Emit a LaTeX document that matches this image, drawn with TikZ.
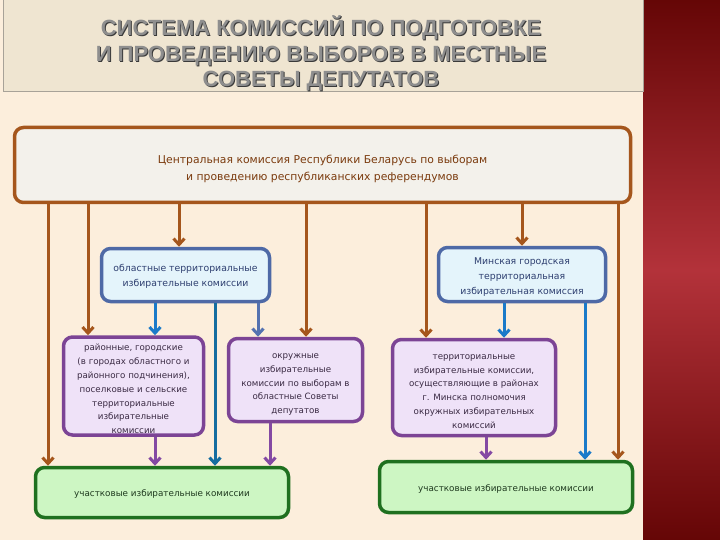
\documentclass[tikz,border=0pt]{standalone}
\usepackage{fontspec}
\setmainfont{DejaVu Sans}
\newfontfamily\titlefont{Liberation Sans}
\usetikzlibrary{arrows.meta}
\definecolor{bgcream}{HTML}{FCEEDC}
\definecolor{titlefill}{HTML}{EFE5D1}
\definecolor{titlebord}{HTML}{A8A298}
\definecolor{titlegray}{HTML}{8E8E8E}
\definecolor{titledark}{HTML}{3A3A3A}
\definecolor{redA}{HTML}{650606}
\definecolor{redB}{HTML}{B3323A}
\definecolor{brownc}{HTML}{A5561C}
\definecolor{centralfill}{HTML}{F3F1EB}
\definecolor{browntext}{HTML}{7B3B0E}
\definecolor{blueborder}{HTML}{4E69A6}
\definecolor{bluefill}{HTML}{E4F4FB}
\definecolor{bluetext}{HTML}{2E3F70}
\definecolor{arrowblue}{HTML}{1B7AC9}
\definecolor{slateblue}{HTML}{5572B0}
\definecolor{tealc}{HTML}{156DA0}
\definecolor{purpleborder}{HTML}{7C4495}
\definecolor{purplefill}{HTML}{EFE2F8}
\definecolor{purpletext}{HTML}{3B2B44}
\definecolor{arrowpurple}{HTML}{8449A3}
\definecolor{greenborder}{HTML}{1F701F}
\definecolor{greenfill}{HTML}{CDF6C3}
\definecolor{greentext}{HTML}{1F3A1F}
\tikzset{
  box/.style={draw, rounded corners=9pt, line width=3.5pt, inner sep=0pt},
  cbox/.style={box, draw=brownc, fill=centralfill},
  bbox/.style={box, draw=blueborder, fill=bluefill},
  pbox/.style={box, draw=purpleborder, fill=purplefill},
  gbox/.style={box, draw=greenborder, fill=greenfill},
  txt/.style={inner sep=0pt, align=center},
  ctext/.style={txt, text=browntext, font=\fontsize{10.8}{17}\selectfont},
  btext/.style={txt, text=bluetext, font=\fontsize{9.3}{15}\selectfont},
  ptext/.style={txt, text=purpletext, font=\fontsize{8.7}{13.8}\selectfont},
  gtext/.style={txt, text=greentext, font=\fontsize{8.8}{12}\selectfont},
  conn/.style={line width=3pt, -{Straight Barb[length=6pt,width=11pt]}},
  titletext/.style={anchor=base, font=\titlefont\bfseries\fontsize{22}{26}\selectfont},
}
\begin{document}
\begin{tikzpicture}[x=1pt,y=-1pt]
\useasboundingbox (0,0) rectangle (720,540);
\fill[bgcream] (0,0) rectangle (643,540);
\shade[top color=redA, bottom color=redA, middle color=redB] (643,0) rectangle (720,540);
\draw[titlebord, fill=titlefill, line width=1pt] (3,-2) rectangle (643,92);
% title
\node[titletext, text=titledark] (t1s) at (322,36.8) {СИСТЕМА КОМИССИЙ ПО ПОДГОТОВКЕ};
\node[titletext, text=titledark] (t2s) at (322,62.8) {И ПРОВЕДЕНИЮ ВЫБОРОВ В МЕСТНЫЕ};
\node[titletext, text=titledark] (t3s) at (322,87.8) {СОВЕТЫ ДЕПУТАТОВ};
\node[titletext, text=titlegray] (t1) at (321,36) {СИСТЕМА КОМИССИЙ ПО ПОДГОТОВКЕ};
\node[titletext, text=titlegray] (t2) at (321,62) {И ПРОВЕДЕНИЮ ВЫБОРОВ В МЕСТНЫЕ};
\node[titletext, text=titlegray] (t3) at (321,87) {СОВЕТЫ ДЕПУТАТОВ};
% boxes
\node[cbox, minimum width=616pt, minimum height=75pt] (central) at (322.5,165) {};
\node[bbox, minimum width=168pt, minimum height=53pt] (obl) at (185.5,275) {};
\node[bbox, minimum width=167pt, minimum height=54pt] (minsk) at (522,274.5) {};
\node[pbox, minimum width=140pt, minimum height=98pt] (dist) at (133.5,386) {};
\node[pbox, minimum width=134pt, minimum height=83pt] (okr) at (295.5,380) {};
\node[pbox, minimum width=163pt, minimum height=96pt] (terr) at (474,387.5) {};
\node[gbox, minimum width=253pt, minimum height=50pt] (gL) at (162,492.5) {};
\node[gbox, minimum width=253pt, minimum height=51pt] (gR) at (506,487) {};
% texts
\node[ctext] (centralT) at ([yshift=-4pt]central.center)
  {Центральная комиссия Республики Беларусь по выборам\\и проведению республиканских референдумов};
\node[btext] (oblT) at ([yshift=-1.5pt]obl.center)
  {областные территориальные\\избирательные комиссии};
\node[btext] (minskT) at ([yshift=-3pt]minsk.center)
  {Минская городская\\территориальная\\избирательная комиссия};
\node[ptext] (distT) at ([yshift=-3pt]dist.center)
  {районные, городские\\(в городах областного и\\районного подчинения),\\поселковые и сельские\\территориальные\\избирательные\\комиссии};
\node[ptext] (okrT) at ([yshift=-4.5pt]okr.center)
  {окружные\\избирательные\\комиссии по выборам в\\областные Советы\\депутатов};
\node[ptext] (terrT) at ([yshift=-4pt]terr.center)
  {территориальные\\избирательные комиссии,\\осуществляющие в районах\\г. Минска полномочия\\окружных избирательных\\комиссий};
\node[gtext] (gLT) at ([yshift=-1pt]gL.center) {участковые избирательные комиссии};
\node[gtext] (gRT) at ([yshift=-1.5pt]gR.center) {участковые избирательные комиссии};
% x positions
\coordinate (xa) at (48,0);
\coordinate (xb) at (88,0);
\coordinate (xc) at (179,0);
\coordinate (xd) at (306,0);
\coordinate (xe) at (426,0);
\coordinate (xf) at (522,0);
\coordinate (xg) at (618,0);
\coordinate (xh) at (155,0);
\coordinate (xi) at (215,0);
\coordinate (xj) at (258,0);
\coordinate (xk) at (270,0);
\coordinate (xl) at (486,0);
\coordinate (xm) at (504,0);
\coordinate (xn) at (585,0);
% brown
\draw[conn, brownc] (central.south -| xa) -- (gL.north -| xa);
\draw[conn, brownc] (central.south -| xb) -- (dist.north -| xb);
\draw[conn, brownc] (central.south -| xc) -- (obl.north -| xc);
\draw[conn, brownc] (central.south -| xd) -- (okr.north -| xd);
\draw[conn, brownc] (central.south -| xe) -- (terr.north -| xe);
\draw[conn, brownc] (central.south -| xf) -- (minsk.north -| xf);
\draw[conn, brownc] (central.south -| xg) -- (gR.north -| xg);
% blue
\draw[conn, arrowblue] (obl.south -| xh) -- (dist.north -| xh);
\draw[conn, slateblue] (obl.south -| xj) -- (okr.north -| xj);
\draw[conn, arrowblue] (minsk.south -| xm) -- (terr.north -| xm);
\draw[conn, tealc] (obl.south -| xi) -- (gL.north -| xi);
\draw[conn, arrowblue] (minsk.south -| xn) -- (gR.north -| xn);
% purple
\draw[conn, arrowpurple] (dist.south -| xh) -- (gL.north -| xh);
\draw[conn, arrowpurple] (okr.south -| xk) -- (gL.north -| xk);
\draw[conn, arrowpurple] (terr.south -| xl) -- (gR.north -| xl);
\end{tikzpicture}
\end{document}
